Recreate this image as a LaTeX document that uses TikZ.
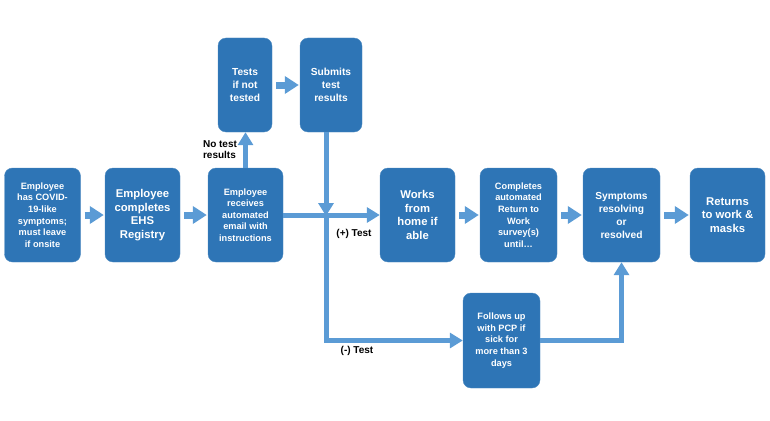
\documentclass[tikz,border=0pt]{standalone}
\usepackage{fontspec}
\setmainfont{Liberation Sans}
\usetikzlibrary{arrows.meta}
\definecolor{boxblue}{HTML}{2E75B6}
\definecolor{lineblue}{HTML}{5B9BD5}
\begin{document}
\begin{tikzpicture}[
        x=1pt, y=-1pt,
        box/.style={draw=boxblue!85!white, fill=boxblue, rounded corners=8pt, text=white,
            font=\bfseries, align=center, inner sep=2pt, minimum width=75pt, minimum height=94pt},
        small/.style={font=\bfseries\fontsize{9.2}{11.6}\selectfont},
        mid/.style={font=\bfseries\fontsize{10.2}{13}\selectfont},
        big/.style={font=\bfseries\fontsize{11.3}{13.7}\selectfont},
        flow/.style={draw=lineblue, line width=5pt, -{Triangle[length=13pt,width=15pt]}},
        step arrow/.style={draw=lineblue, line width=7pt, -{Triangle[length=14pt,width=17pt]},
            shorten <=4pt, shorten >=1pt},
        lbl/.style={font=\bfseries\fontsize{10}{11}\selectfont, align=left},
    ]
    \useasboundingbox (0,0) rectangle (770,420);
    \node[box, small, minimum width=76pt] (covid) at (42.5,215) {Employee\\has COVID-\\19-like\\symptoms;\\must leave\\if onsite};
    \node[box, big] (ehs) at (142.5,215) {Employee\\completes\\EHS\\Registry};
    \node[box, small] (email) at (245.5,215) {Employee\\receives\\automated\\email with\\instructions};
    \node[box, mid, minimum width=54pt] (tests) at (245,85) {Tests\\if not\\tested};
    \node[box, mid, minimum width=62pt] (submits) at (331,85) {Submits\\test\\results};
    \node[box, big] (works) at (417.5,215) {Works\\from\\home if\\able};
    \node[box, small, minimum width=77pt] (survey) at (518.5,215) {Completes\\automated\\Return to\\Work\\survey(s)\\until\ldots};
    \node[box, mid, minimum width=77pt] (symptoms) at (621.5,215) {Symptoms\\resolving\\or\\resolved};
    \node[box, big] (returns) at (727.5,215) {Returns\\to work \&\\masks};
    \node[box, small, minimum width=77pt, minimum height=95pt] (follows) at (501.5,340.5) {Follows up\\with PCP if\\sick for\\more than 3\\days};
    \coordinate (jn) at (326,215);

    \draw[step arrow] (covid) -- (ehs);
    \draw[step arrow] (ehs) -- (email);
    \draw[step arrow] (tests) -- (submits);
    \draw[step arrow] (works) -- (survey);
    \draw[step arrow] (survey) -- (symptoms);
    \draw[step arrow] (symptoms) -- (returns);
    \draw[flow] (email.north) -- (email.north |- tests.south);
    \draw[flow] (email.east) -- (works.west);
    \draw[flow] (submits.south -| jn) -- ([yshift=-1pt]jn);
    \draw[flow] (jn) |- (follows.west);
    \draw[flow] (follows.east) -| (symptoms.south);

    \node[lbl] (notest) at (220,150) {No test\\results};
    \node[lbl] (pos) at (354,234) {(+) Test};
    \node[lbl] (neg) at (357,351) {(-) Test};
\end{tikzpicture}
\end{document}
